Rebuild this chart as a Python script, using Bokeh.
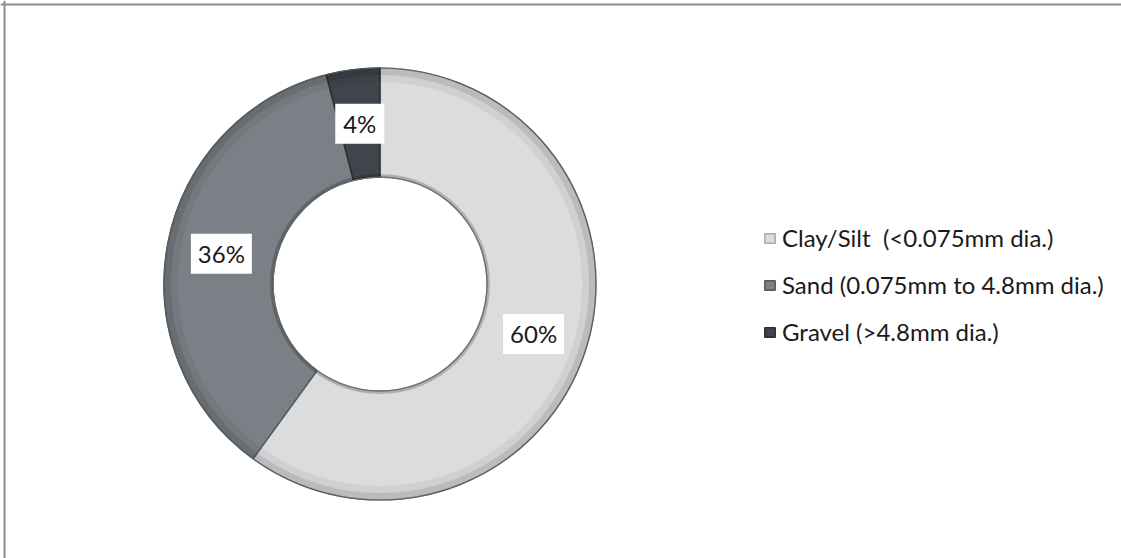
import numpy as np
from bokeh.plotting import figure
from bokeh.models import Range1d, Span, Legend, LegendItem, ColumnDataSource
from bokeh.core.properties import value
from bokeh.embed import file_html
from bokeh.resources import INLINE

# ---- data ----
categories = ["Clay/Silt  (<0.075mm dia.)", "Sand (0.075mm to 4.8mm dia.)", "Gravel (>4.8mm dia.)"]
percent = [60, 36, 4]
labels = ["60%", "36%", "4%"]
colors = ["#dadcde", "#7b8086", "#3f454a"]
edge_colors = ["#a9acaf", "#55595d", "#2a2e31"]

W, H = 1121, 558
p = figure(width=W, height=H, output_backend="svg", toolbar_location=None,
           x_range=Range1d(0, W), y_range=Range1d(0, H), min_border=0)
p.axis.visible = False
p.grid.visible = False
p.outline_line_color = None
p.background_fill_color = "white"
p.border_fill_color = "white"

cx, cy = 379.5, H - 283.5
r_in, r_out = 107, 216

frac = np.array(percent, dtype=float) / sum(percent)
cum = np.concatenate([[0], np.cumsum(frac)])
start = np.pi / 2 - 2 * np.pi * cum[:-1]
end = np.pi / 2 - 2 * np.pi * cum[1:]
mid = (start + end) / 2
r_lab = (r_in + r_out) / 2
lx = cx + r_lab * np.cos(mid)
ly = cy + r_lab * np.sin(mid)

src = ColumnDataSource(dict(label=labels, lx=lx, ly=ly,
                            bw=[12 * len(s) + 25 for s in labels]))

renderers = []
for i in range(len(categories)):
    r = p.annular_wedge(x=cx, y=cy, inner_radius=r_in, outer_radius=r_out,
                        start_angle=start[i], end_angle=end[i], direction="clock",
                        fill_color=colors[i], line_color=edge_colors[i], line_width=1.5)
    renderers.append(r)

# bevel shading
p.annular_wedge(x=cx, y=cy, inner_radius=r_out - 7, outer_radius=r_out, start_angle=0, end_angle=2 * np.pi,
                fill_color="black", fill_alpha=0.15, line_color=None)
p.annular_wedge(x=cx, y=cy, inner_radius=r_out - 14, outer_radius=r_out - 7, start_angle=0, end_angle=2 * np.pi,
                fill_color="black", fill_alpha=0.05, line_color=None)
p.annular_wedge(x=cx, y=cy, inner_radius=r_in, outer_radius=r_in + 3, start_angle=0, end_angle=2 * np.pi,
                fill_color="black", fill_alpha=0.2, line_color=None)
p.circle(x=cx, y=cy, radius=r_out, fill_color=None, line_color="#5a5e62", line_width=1.2)
p.circle(x=cx, y=cy, radius=r_in, fill_color=None, line_color="#6a6e72", line_width=1.2)

# data labels
p.rect(x="lx", y="ly", width="bw", height=40, width_units="screen", height_units="screen",
       source=src, fill_color="white", line_color=None)
p.text(x="lx", y="ly", text="label", source=src, text_align="center", text_baseline="middle",
       text_font=value("Lato"), text_font_size="24px", text_color="#1a1a1a")

# legend
legend = Legend(items=[LegendItem(label=categories[i], renderers=[renderers[i]]) for i in range(len(categories))],
                location=(763, 212), orientation="vertical")
legend.glyph_width = 13
legend.glyph_height = 12
legend.label_standoff = 6
legend.spacing = 18
legend.padding = 0
legend.margin = 0
legend.label_text_font = "Lato"
legend.label_text_font_size = "24px"
legend.label_text_color = "#1a1a1a"
legend.border_line_color = None
legend.background_fill_alpha = 0
p.add_layout(legend, "center")

# chart frame (cut at right/bottom)
p.add_layout(Span(location=4, dimension="height", line_color="#8c8c8c", line_width=2))
p.add_layout(Span(location=H - 4, dimension="width", line_color="#8c8c8c", line_width=2))

open("out.html", "w").write(file_html(p, INLINE))
